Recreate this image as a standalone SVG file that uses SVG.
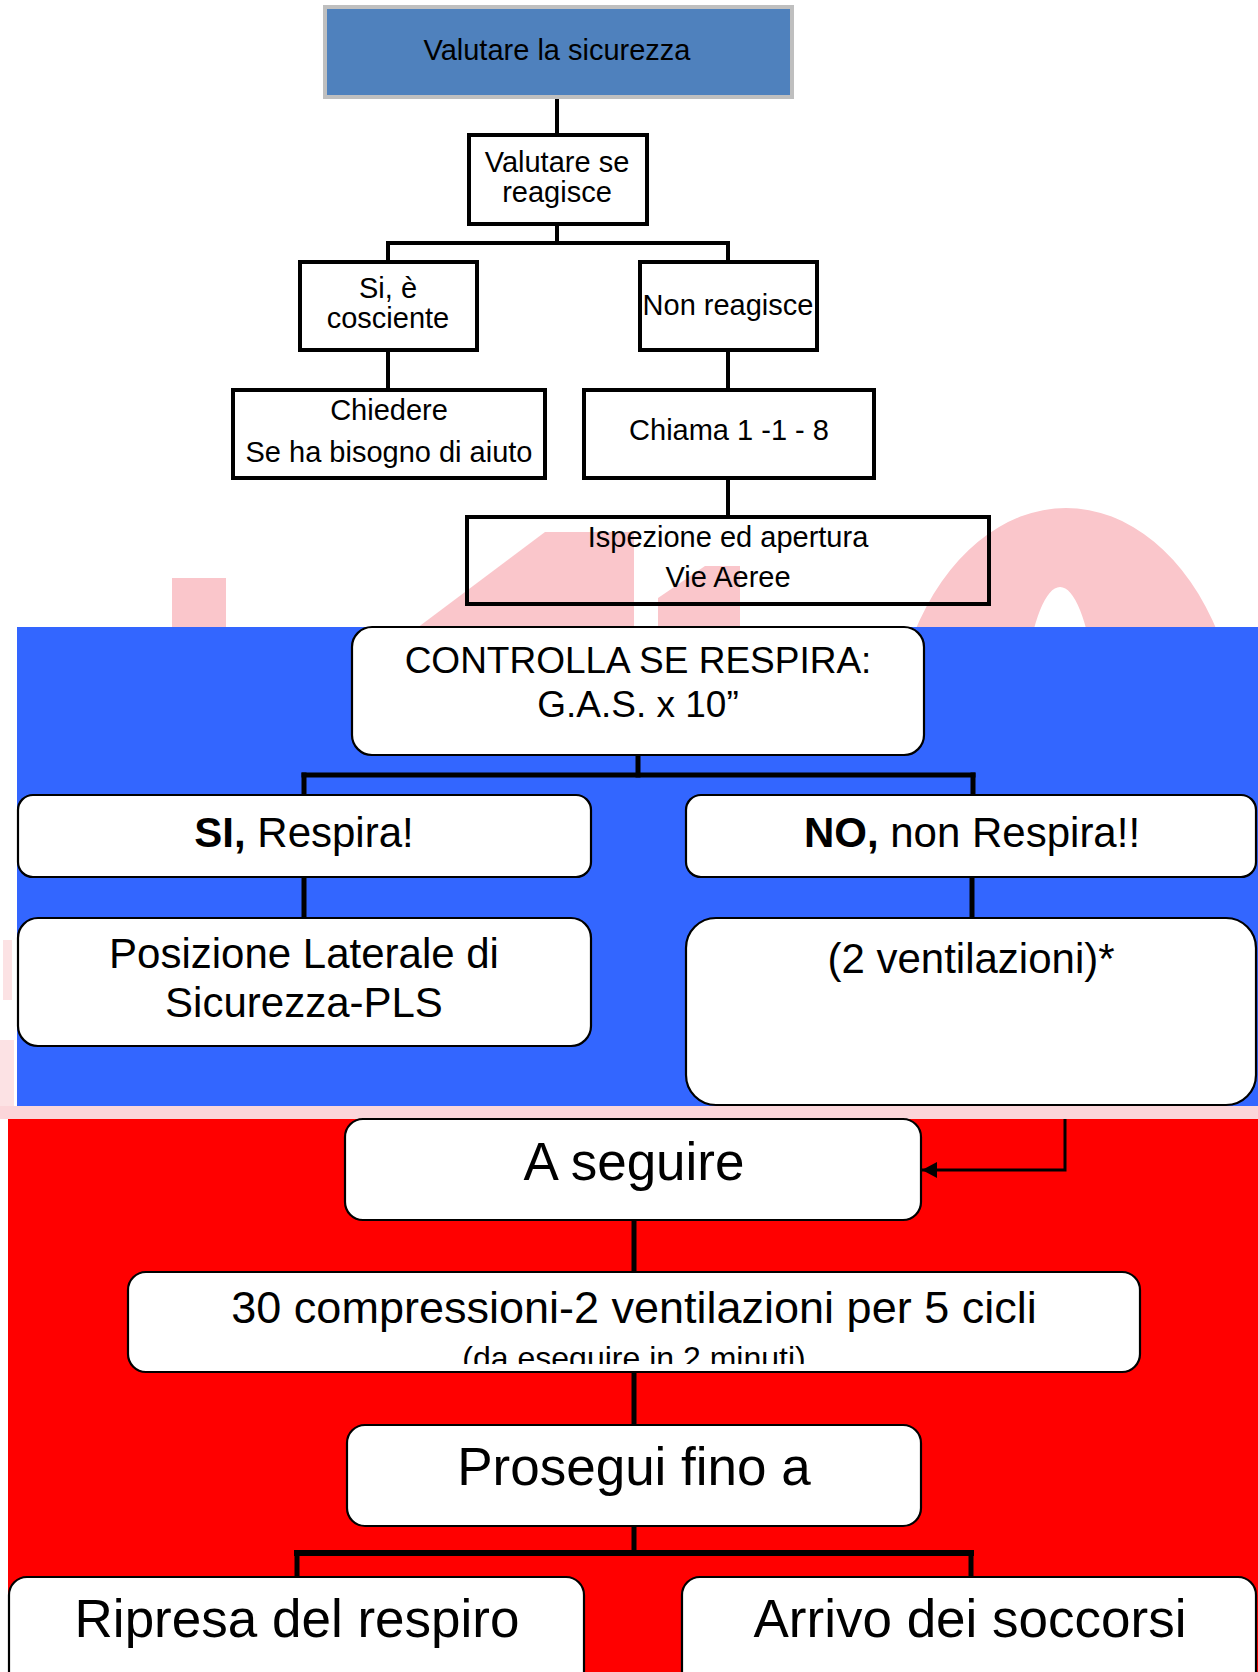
<svg xmlns="http://www.w3.org/2000/svg" width="1258" height="1672" viewBox="0 0 1258 1672">
<style>
  text { font-family: "Liberation Sans", Arial, sans-serif; fill: #000; text-anchor: middle; }
  .t1 { font-size: 29px; }
  .t2 { font-size: 42px; }
  .t2s { font-size: 37px; }
  .t3 { font-size: 53px; }
  .t4 { font-size: 45px; }
  .t5 { font-size: 32px; }
  .sq { fill: none; stroke: #000; stroke-width: 4; }
  .rb { fill: #fff; stroke: #000; stroke-width: 2.2; }
  .wm { fill: #FAC6CB; }
  .cn { stroke: #000; fill: none; stroke-linecap: square; }
</style>
<defs>
  <marker id="arr" markerUnits="userSpaceOnUse" markerWidth="18" markerHeight="18" refX="15" refY="8" orient="auto">
    <path d="M0,0 L15,8 L0,16 Z" fill="#000"/>
  </marker>
  <clipPath id="clipSmall"><rect x="0" y="0" width="1258" height="1364"/></clipPath>
</defs>
<rect x="0" y="0" width="1258" height="1672" fill="#fff"/>

<g id="watermark">
  <rect class="wm" x="172" y="578" width="54" height="50"/>
  <polygon class="wm" points="417,628 545,532 634,532 634,628"/>
  <polygon class="wm" points="658,628 658,598 705,566 740,566 740,628"/>
  <path class="wm" fill-rule="evenodd" d="M1066,508 a176,252 0 1,0 0.1,0 Z M1060,587 a40,173 0 1,0 0.1,0 Z"/>
  <rect x="0" y="1106" width="1258" height="13" fill="#FBD6DA"/>
  <rect x="3" y="940" width="9" height="60" fill="#FCE2E4"/>
  <rect x="0" y="1040" width="14" height="66" fill="#FCE2E4"/>
</g>

<rect id="blue-band" x="17" y="627" width="1241" height="479" fill="#3366FF"/>
<rect id="red-band" x="8" y="1119" width="1250" height="553" fill="#FF0000"/>

<g id="connectors">
  <g class="cn" stroke-width="4">
    <line x1="557" y1="99" x2="557" y2="133"/>
    <line x1="557" y1="226" x2="557" y2="243"/>
    <line x1="388" y1="243" x2="728" y2="243"/>
    <line x1="388" y1="243" x2="388" y2="260"/>
    <line x1="728" y1="243" x2="728" y2="260"/>
    <line x1="388" y1="352" x2="388" y2="388"/>
    <line x1="728" y1="352" x2="728" y2="388"/>
    <line x1="728" y1="480" x2="728" y2="515"/>
  </g>
  <g class="cn" stroke-width="5">
    <line x1="638" y1="755" x2="638" y2="775"/>
    <line x1="304" y1="775" x2="973" y2="775"/>
    <line x1="304" y1="775" x2="304" y2="795"/>
    <line x1="973" y1="775" x2="973" y2="795"/>
    <line x1="304" y1="877" x2="304" y2="918"/>
    <line x1="972" y1="877" x2="972" y2="918"/>
    <line x1="634" y1="1220" x2="634" y2="1272"/>
    <line x1="634" y1="1372" x2="634" y2="1425"/>
    <line x1="634" y1="1526" x2="634" y2="1553"/>
    <line x1="297" y1="1553" x2="971" y2="1553" stroke-width="6"/>
    <line x1="297" y1="1553" x2="297" y2="1577"/>
    <line x1="971" y1="1553" x2="971" y2="1577"/>
  </g>
  <path d="M1065,1119 V1170 H922" fill="none" stroke="#000" stroke-width="3" marker-end="url(#arr)"/>
</g>

<g id="n-sicurezza">
  <rect x="325" y="7" width="467" height="90" fill="#4F81BD" stroke="#BFBFBF" stroke-width="4"/>
  <text class="t1" x="557" y="60">Valutare la sicurezza</text>
</g>
<g id="n-reagisce">
  <rect class="sq" x="469" y="135" width="178" height="89"/>
  <text class="t1" x="557" y="172">Valutare se</text>
  <text class="t1" x="557" y="202">reagisce</text>
</g>
<g id="n-cosciente">
  <rect class="sq" x="300" y="262" width="177" height="88"/>
  <text class="t1" x="388" y="298">Si, è</text>
  <text class="t1" x="388" y="328">cosciente</text>
</g>
<g id="n-non-reagisce">
  <rect class="sq" x="640" y="262" width="177" height="88"/>
  <text class="t1" x="728" y="315">Non reagisce</text>
</g>
<g id="n-chiedere">
  <rect class="sq" x="233" y="390" width="312" height="88"/>
  <text class="t1" x="389" y="420">Chiedere</text>
  <text class="t1" x="389" y="462">Se ha bisogno di aiuto</text>
</g>
<g id="n-chiama">
  <rect class="sq" x="584" y="390" width="290" height="88"/>
  <text class="t1" x="729" y="440">Chiama 1 -1 - 8</text>
</g>
<g id="n-ispezione">
  <rect class="sq" x="467" y="517" width="522" height="87"/>
  <text class="t1" x="728" y="547">Ispezione ed apertura</text>
  <text class="t1" x="728" y="587">Vie Aeree</text>
</g>

<g id="n-controlla">
  <rect class="rb" x="352" y="627" width="572" height="128" rx="20"/>
  <text class="t2s" x="638" y="673">CONTROLLA SE RESPIRA:</text>
  <text class="t2s" x="638" y="717">G.A.S. x 10”</text>
</g>
<g id="n-si-respira">
  <rect class="rb" x="18" y="795" width="573" height="82" rx="15"/>
  <text class="t2" x="304" y="847"><tspan font-weight="bold">SI,</tspan> Respira!</text>
</g>
<g id="n-no-respira">
  <rect class="rb" x="686" y="795" width="570" height="82" rx="15"/>
  <text class="t2" x="972" y="847"><tspan font-weight="bold">NO,</tspan> non Respira!!</text>
</g>
<g id="n-pls">
  <rect class="rb" x="18" y="918" width="573" height="128" rx="20"/>
  <text class="t2" x="304" y="968">Posizione Laterale di</text>
  <text class="t2" x="304" y="1017">Sicurezza-PLS</text>
</g>
<g id="n-ventilazioni">
  <rect class="rb" x="686" y="918" width="570" height="187" rx="30"/>
  <text class="t2" x="971" y="973">(2 ventilazioni)*</text>
</g>

<g id="n-a-seguire">
  <rect class="rb" x="345" y="1119" width="576" height="101" rx="18"/>
  <text class="t3" x="634" y="1180">A seguire</text>
</g>
<g id="n-compressioni">
  <rect class="rb" x="128" y="1272" width="1012" height="100" rx="18"/>
  <text class="t4" x="634" y="1323">30 compressioni-2 ventilazioni per 5 cicli</text>
  <text class="t5" x="634" y="1369" clip-path="url(#clipSmall)">(da eseguire in 2 minuti)</text>
</g>
<g id="n-prosegui">
  <rect class="rb" x="347" y="1425" width="574" height="101" rx="18"/>
  <text class="t3" x="634" y="1485">Prosegui fino a</text>
</g>
<g id="n-ripresa">
  <rect class="rb" x="9" y="1577" width="575" height="130" rx="18"/>
  <text class="t3" x="297" y="1637">Ripresa del respiro</text>
</g>
<g id="n-arrivo">
  <rect class="rb" x="682" y="1577" width="574" height="130" rx="18"/>
  <text class="t3" x="970" y="1637">Arrivo dei soccorsi</text>
</g>
</svg>
